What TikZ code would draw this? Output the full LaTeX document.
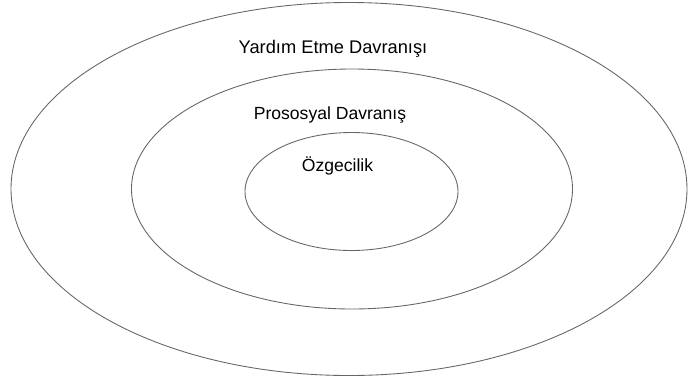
\documentclass[tikz,border=0pt]{standalone}
\usepackage{fontspec}
\setmainfont{Liberation Sans}
\begin{document}
\begin{tikzpicture}[line cap=round,
    ring/.style={draw=black!60,line width=.5pt},
    lbl/.style={anchor=base,inner sep=0pt,font=\fontsize{10}{12}\selectfont}]
  \useasboundingbox (0,0) rectangle (13.76,-7.64);
  % Three nested rings: the widest is helping, the smallest altruism.
  \draw[ring] (6.98,-3.78) ellipse (6.76 and 3.73);
  \draw[ring] (7.04,-3.78) ellipse (4.41 and 2.40);
  \draw[ring] (7.03,-3.83) ellipse (2.13 and 1.18);
  \node[lbl,font=\fontsize{10.4}{12}\selectfont] (yardim) at (6.66,-1.067) {Yardım Etme Davranışı};
  \node[lbl] (prosos) at (6.60,-2.387) {Prososyal Davranış};
  \node[lbl] (ozgec) at (6.75,-3.433) {Özgecilik};
\end{tikzpicture}
\end{document}
